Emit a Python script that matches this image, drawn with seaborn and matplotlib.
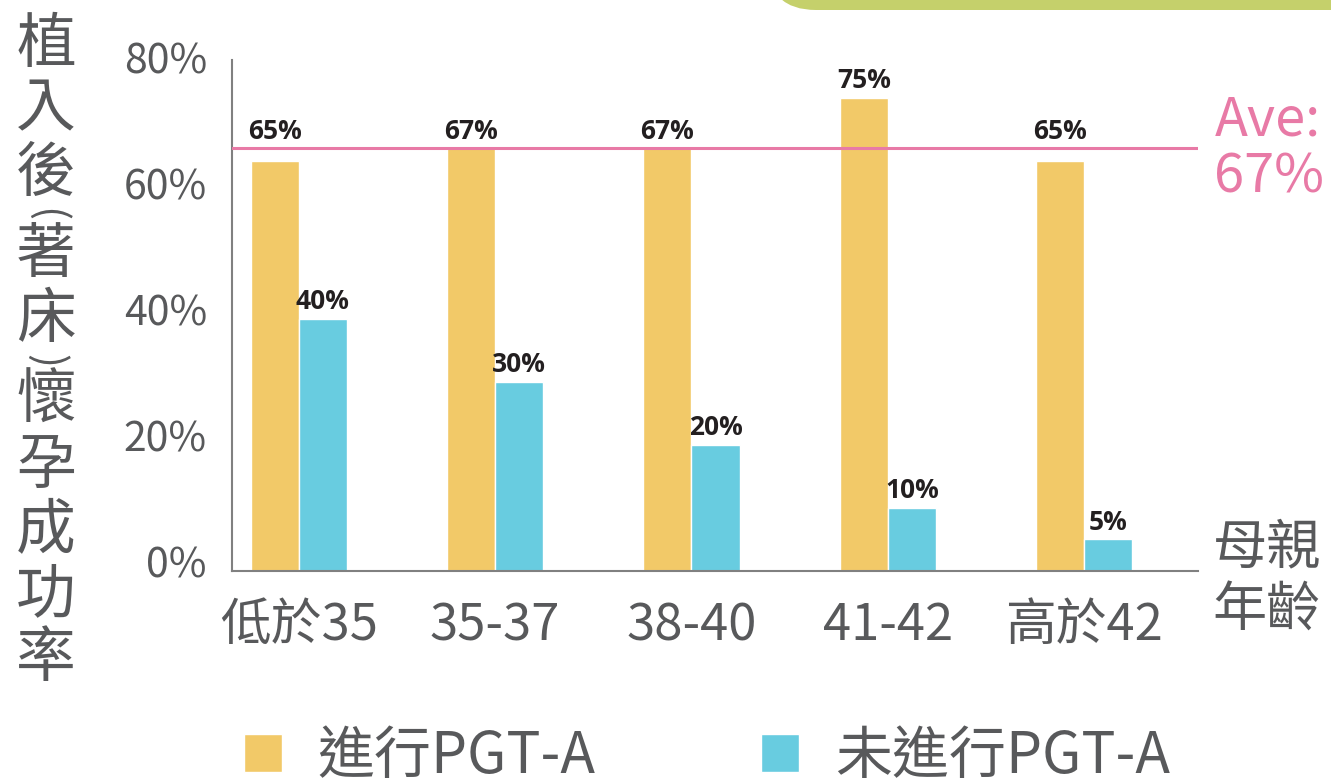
import matplotlib

matplotlib.use("Agg")

import matplotlib.pyplot as plt
import pandas as pd
import seaborn as sns
from matplotlib.patches import FancyBboxPatch
from matplotlib.transforms import IdentityTransform, ScaledTranslation, blended_transform_factory

# data
age_groups = ["低於35", "35-37", "38-40", "41-42", "高於42"]
with_pgt = [65, 67, 67, 75, 65]
without_pgt = [40, 30, 20, 10, 5]
average = 67
series_names = ["進行PGT-A", "未進行PGT-A"]
y_ticks = [0, 20, 40, 60, 80]

ORANGE = "#f2c968"
CYAN = "#68cce0"
PINK = "#e87aa6"
GREY_TEXT = "#58595b"
AXIS = "#808080"

sns.set_theme(style="white")
plt.rcParams["font.family"] = ["Noto Sans CJK TC", "DejaVu Sans"]

df = pd.DataFrame({
    "age": age_groups * 2,
    "rate": with_pgt + without_pgt,
    "group": [series_names[0]] * len(age_groups) + [series_names[1]] * len(age_groups),
})

fig = plt.figure(figsize=(13.31, 7.80), dpi=100)
ax = fig.add_axes([232 / 1331, 209 / 780, 966 / 1331, 511 / 780])

sns.barplot(data=df, x="age", y="rate", hue="group", hue_order=series_names,
            palette=[ORANGE, CYAN], width=0.49, saturation=1, ax=ax)

ax.set_xlim(-0.34, 4.58)
ax.set_ylim(0, 81)
ax.set_xlabel("")
ax.set_ylabel("")
ax.set_yticks(y_ticks)
ax.set_yticklabels([f"{t}%" for t in y_ticks])
ax.tick_params(axis="y", length=0, pad=18, labelsize=29.5, labelcolor=GREY_TEXT)
ax.tick_params(axis="x", length=0, pad=21, labelsize=36.5, labelcolor=GREY_TEXT)
# the reference draws the y labels a little above their ticks
lift = ScaledTranslation(0, 0.09, fig.dpi_scale_trans)
for lab in ax.get_yticklabels():
    lab.set_transform(lab.get_transform() + lift)
sns.despine(ax=ax)
for side in ("left", "bottom"):
    ax.spines[side].set_color(AXIS)
    ax.spines[side].set_linewidth(1.5)

# average line and its label
ax.axhline(average, color=PINK, linewidth=2.2, zorder=3)
trans = blended_transform_factory(ax.transAxes, ax.transData)
ax.text(1.017, average, f"Ave:\n{average}%", transform=trans, ha="left", va="center",
        fontsize=39, color=PINK, linespacing=1.05)
ax.annotate("母親\n年齡", (1.015, 0), xycoords=trans, xytext=(0, -6),
            textcoords="offset points", ha="left", va="center",
            fontsize=39, color=GREY_TEXT, linespacing=1.2)

# value labels
for i, bars in enumerate(ax.containers):
    for bar in bars:
        h = bar.get_height()
        y = max(h, average) if i == 0 else h
        ax.annotate(f"{h:.0f}%", (bar.get_x() + bar.get_width() / 2, y),
                    xytext=(0, 7), textcoords="offset points", ha="center",
                    va="baseline", fontsize=19, weight="bold", color="#231f20",
                    family=["Open Sans", "DejaVu Sans"])

# legend below the chart
handles, labels = ax.get_legend_handles_labels()
ax.get_legend().remove()
fig.legend(handles, labels, loc="center", bbox_to_anchor=(0.531, 0.03), ncol=2,
           frameon=False, fontsize=41, handlelength=0.67, handleheight=0.67,
           handletextpad=0.63, columnspacing=2.9, borderpad=0,
           labelcolor=GREY_TEXT)

# vertical y label, one character per line; brackets drawn as turned parentheses
ylabel_chars = "植入後(著床)懷孕成功率"
top = 13
for ch in ylabel_chars:
    bracket = ch in "()"
    half = 8.5 if bracket else 32.25
    fig.text(46 / 1331, 1 - (top + half) / 780, ch, ha="center", va="center",
             fontsize=30 if bracket else 43, color=GREY_TEXT,
             rotation=-90 if bracket else 0)
    top += 2 * half

# green header tab in the top-right corner
fig.patches.append(FancyBboxPatch((768, 770), 700, 100, boxstyle="round,pad=0,rounding_size=48",
                                  transform=IdentityTransform(), facecolor="#c5d06b",
                                  edgecolor="none", figure=fig))

fig.savefig("out.png", dpi=100)
plt.close(fig)
